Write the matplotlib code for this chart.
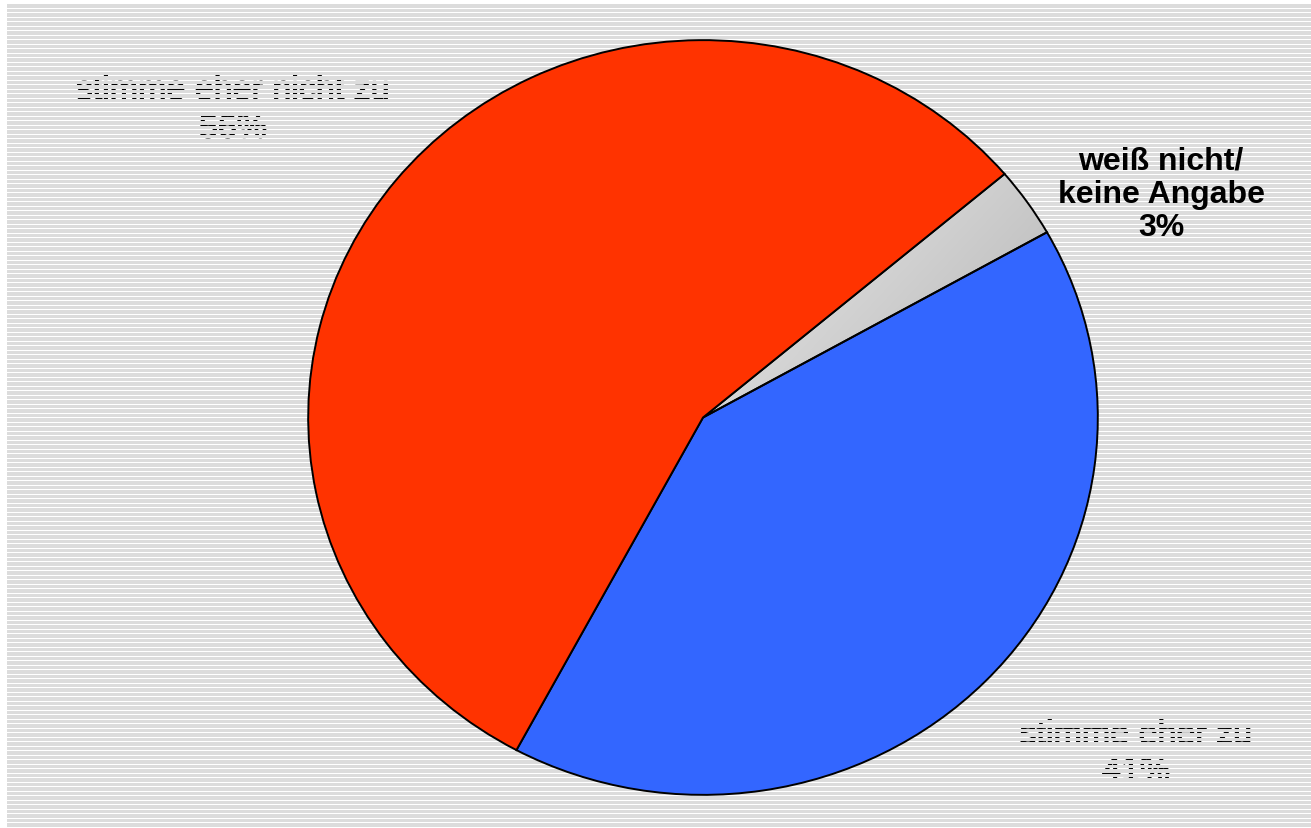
import numpy as np
import matplotlib
matplotlib.use("Agg")
import matplotlib.pyplot as plt
import matplotlib.patheffects as pe

labels = ["stimme eher zu", "weiß nicht/\nkeine Angabe", "stimme eher nicht zu"]
values = [41, 3, 56]
colors = ["#3366FF", "#D8D8D8", "#FF3300"]

W, H = 1311, 829
fig = plt.figure(figsize=(W / 100, H / 100), dpi=100)
fig.patch.set_facecolor("white")

# striped background (gray bands with thin transparent lines)
img = np.zeros((H, W, 4))
gray = np.array([0.863, 0.863, 0.863, 1.0])
y0, x0, P = 4.0, 7, 4.5
for r in range(H):
    if r < int(y0):
        continue
    ypix = r - y0
    if (ypix % P) < 1.0:
        continue  # white line
    img[r, x0:, :] = gray
fig.figimage(img[::-1], xo=0, yo=0, zorder=2, origin="lower")

# hidden (masked) labels drawn beneath stripes
font = ["Liberation Sans", "DejaVu Sans"]
stroke = [pe.withStroke(linewidth=0.8, foreground="black")]
fig.text(233 / W, 1 - 111 / H, "stimme eher nicht zu\n56%", ha="center", va="center",
         fontsize=24.5, color="black", family=font, linespacing=1.3, zorder=1,
         path_effects=stroke)
fig.text(1136 / W, 1 - 755 / H, "stimme eher zu\n41%", ha="center", va="center",
         fontsize=24.5, color="black", family=font, linespacing=1.25, zorder=1,
         path_effects=stroke)

# pie axes (ellipse)
ax = fig.add_axes([307 / W, 1 - 797 / H, 792 / W, 757 / H], zorder=3)
ax.set_facecolor("none")
wedges, _ = ax.pie(values, colors=colors, startangle=241.8, counterclock=True,
                   radius=1.0, center=(0, 0),
                   wedgeprops=dict(edgecolor="black", linewidth=1.4))
ax.set_aspect("auto")

# gradient in gray wedge
gw = wedges[1]
n = 200
gx = np.linspace(0, 1, n)
gy = np.linspace(0, 1, n)
GX, GY = np.meshgrid(gx, gy)
t = np.clip(0.6 * GX + 0.4 * (1 - GY), 0, 1)
light, dark = 0.95, 0.68
v = light + (dark - light) * t
rgb = np.dstack([v, v, v])
im = ax.imshow(rgb, extent=[0.0, 1.0, 0.0, 0.75], origin="lower", zorder=0.5,
               aspect="auto", interpolation="bilinear")
im.set_clip_path(gw)
gw.set_facecolor("none")
gw.set_zorder(1)
ax.set_xlim(-1.003, 1.003)
ax.set_ylim(-1.003, 1.003)
ax.axis("off")

fig.text(1161 / W, 1 - 195 / H, "weiß nicht/\nkeine Angabe\n3%", ha="center", va="center",
         fontsize=23, fontweight="bold", color="black", family=font, linespacing=1.15, zorder=4)

fig.savefig("out.png", dpi=100)
